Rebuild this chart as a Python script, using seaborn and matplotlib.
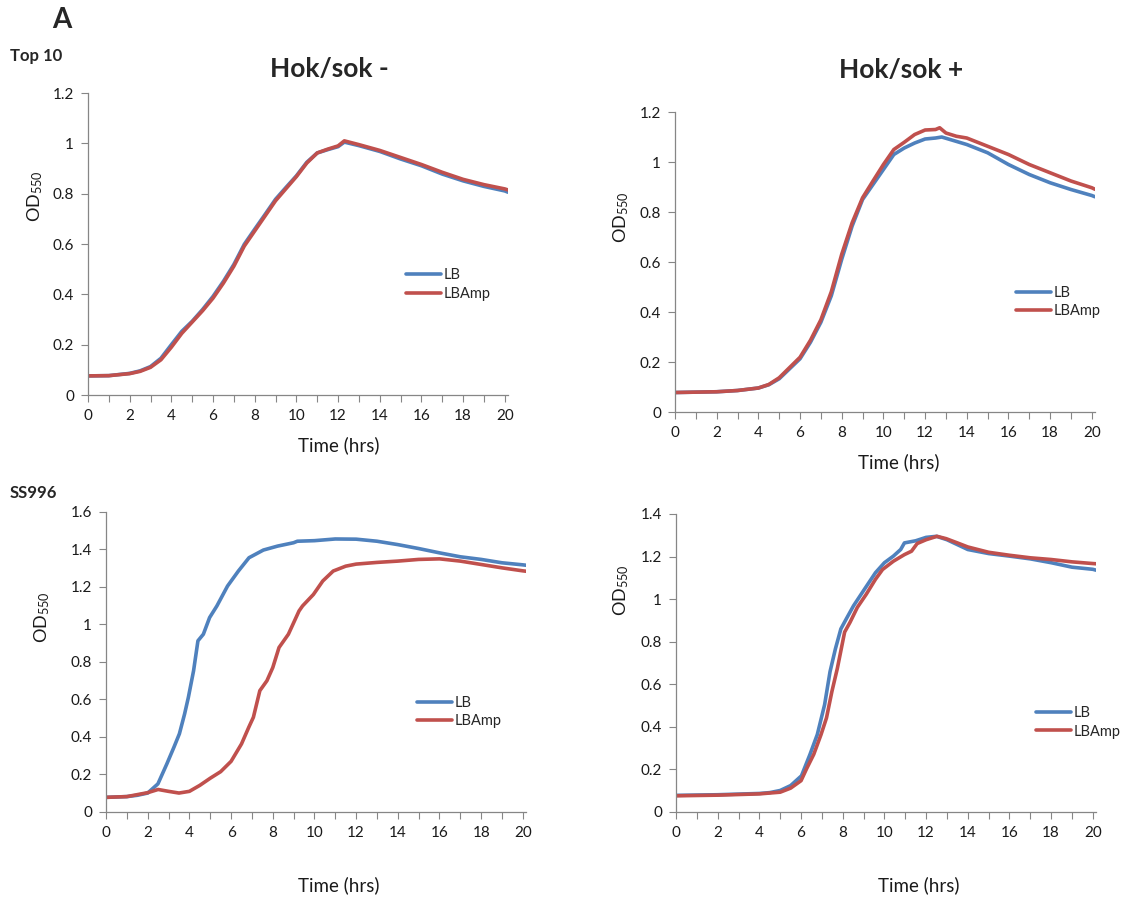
import pandas as pd
import seaborn as sns
import matplotlib.pyplot as plt
from matplotlib.ticker import MultipleLocator, FuncFormatter

# ---- data (time in hrs, OD550) ----
# Top 10, Hok/sok -
tl_lb_t = [0, 1, 2, 2.5, 3, 3.5, 4, 4.5, 5, 5.5, 6, 6.5, 7, 7.5, 8, 8.5, 9, 9.5, 10,
           10.5, 11, 11.5, 12, 12.3, 13, 14, 15, 16, 17, 18, 19, 20, 20.15]
tl_lb = [0.076, 0.077, 0.086, 0.096, 0.113, 0.146, 0.200, 0.253, 0.293, 0.340, 0.392,
         0.452, 0.519, 0.599, 0.659, 0.718, 0.778, 0.825, 0.871, 0.925, 0.962, 0.975,
         0.987, 1.005, 0.991, 0.968, 0.938, 0.911, 0.878, 0.851, 0.829, 0.811, 0.806]
tl_amp_t = tl_lb_t
tl_amp = [0.076, 0.077, 0.085, 0.094, 0.110, 0.140, 0.190, 0.245, 0.290, 0.335, 0.385,
          0.445, 0.512, 0.592, 0.652, 0.712, 0.772, 0.820, 0.868, 0.922, 0.962, 0.977,
          0.990, 1.010, 0.995, 0.972, 0.944, 0.916, 0.885, 0.857, 0.836, 0.819, 0.815]

# Top 10, Hok/sok +
tr_lb_t = [0, 2, 3, 4, 4.5, 5, 5.5, 6, 6.5, 7, 7.5, 8, 8.5, 9, 9.5, 10, 10.5, 11, 11.5,
           12, 12.5, 12.8, 13, 14, 15, 16, 17, 18, 19, 20, 20.15]
tr_lb = [0.078, 0.081, 0.086, 0.096, 0.109, 0.133, 0.173, 0.213, 0.279, 0.359, 0.465,
         0.611, 0.744, 0.850, 0.910, 0.970, 1.030, 1.056, 1.076, 1.092, 1.096, 1.100,
         1.095, 1.070, 1.037, 0.990, 0.950, 0.917, 0.890, 0.866, 0.861]
tr_amp_t = [0, 2, 3, 4, 4.5, 5, 5.5, 6, 6.5, 7, 7.5, 8, 8.5, 9, 9.5, 10, 10.5, 11, 11.5,
            12, 12.5, 12.7, 13, 13.5, 14, 15, 16, 17, 18, 19, 20, 20.15]
tr_amp = [0.078, 0.081, 0.086, 0.096, 0.110, 0.137, 0.178, 0.219, 0.287, 0.369, 0.481,
          0.631, 0.757, 0.857, 0.924, 0.990, 1.050, 1.079, 1.110, 1.128, 1.130, 1.137,
          1.116, 1.103, 1.096, 1.063, 1.030, 0.990, 0.957, 0.924, 0.897, 0.891]

# SS996, Hok/sok -
bl_lb_t = [0, 1, 1.5, 2, 2.23, 2.49, 2.92, 3.26, 3.52, 3.77, 3.95, 4.2, 4.41, 4.67, 4.97,
           5.32, 5.83, 6.35, 6.86, 7.55, 8.23, 9.0, 9.18, 10, 11, 12, 13, 14, 15, 16,
           17, 18, 19, 20, 20.15]
bl_lb = [0.078, 0.082, 0.089, 0.101, 0.124, 0.150, 0.257, 0.346, 0.417, 0.523, 0.611,
         0.753, 0.913, 0.948, 1.037, 1.099, 1.205, 1.285, 1.356, 1.397, 1.418, 1.436,
         1.444, 1.447, 1.456, 1.455, 1.444, 1.426, 1.405, 1.382, 1.361, 1.347, 1.329,
         1.318, 1.316]
bl_amp_t = [0, 1, 2, 2.5, 3, 3.5, 4, 4.5, 5, 5.5, 6, 6.5, 6.85, 7.07, 7.38, 7.72, 8,
            8.3, 8.75, 9.26, 9.43, 9.95, 10.4, 10.9, 11.5, 12, 13, 14, 15, 16, 17, 18,
            19, 20, 20.15]
bl_amp = [0.078, 0.082, 0.103, 0.120, 0.110, 0.101, 0.110, 0.142, 0.180, 0.215, 0.270,
          0.363, 0.452, 0.505, 0.647, 0.700, 0.770, 0.877, 0.948, 1.072, 1.099, 1.160,
          1.232, 1.285, 1.311, 1.322, 1.331, 1.338, 1.347, 1.350, 1.338, 1.320, 1.302,
          1.286, 1.284]

# SS996, Hok/sok +
br_lb_t = [0, 2, 4, 4.5, 5, 5.5, 6.02, 6.43, 6.78, 7.13, 7.39, 7.65, 7.91, 8.17, 8.52,
           9.04, 9.57, 10, 10.43, 10.78, 10.96, 11.5, 12, 12.5, 13, 13.5, 14, 15, 16,
           17, 18, 19, 20, 20.15]
br_lb = [0.078, 0.081, 0.087, 0.091, 0.101, 0.124, 0.170, 0.271, 0.364, 0.504, 0.659,
         0.767, 0.860, 0.907, 0.969, 1.046, 1.124, 1.171, 1.202, 1.233, 1.264, 1.274,
         1.290, 1.295, 1.279, 1.256, 1.233, 1.214, 1.202, 1.189, 1.171, 1.150, 1.140,
         1.136]
br_amp_t = [0, 2, 4, 5, 5.5, 6, 6.26, 6.61, 6.96, 7.22, 7.48, 7.74, 8.09, 8.35, 8.7,
            9.13, 9.57, 9.91, 10.43, 10.96, 11.3, 11.57, 12, 12.52, 12.96, 13.5, 14, 15,
            16, 17, 18, 19, 20, 20.15]
br_amp = [0.076, 0.079, 0.085, 0.093, 0.112, 0.147, 0.202, 0.271, 0.364, 0.442, 0.566,
          0.674, 0.845, 0.891, 0.961, 1.023, 1.093, 1.139, 1.178, 1.209, 1.225, 1.261,
          1.279, 1.295, 1.284, 1.264, 1.245, 1.220, 1.206, 1.194, 1.186, 1.175, 1.167,
          1.166]

media = ['LB', 'LBAmp']
colors = {'LB': '#4F81BD', 'LBAmp': '#C0504D'}


def make_df(lb_t, lb, amp_t, amp):
    a = pd.DataFrame({'time': lb_t, 'od': lb, 'medium': media[0]})
    b = pd.DataFrame({'time': amp_t, 'od': amp, 'medium': media[1]})
    return pd.concat([a, b], ignore_index=True)


sns.set_theme(style='ticks')
plt.rcParams['font.family'] = ['Lato', 'DejaVu Sans']
plt.rcParams['mathtext.default'] = 'regular'

fig = plt.figure(figsize=(11.28, 8.99), dpi=100)

# rect, ymax, title(+pos), xlabel pos, ylabel pos, legend anchor (hrs, od)
panels = [
    dict(df=make_df(tl_lb_t, tl_lb, tl_amp_t, tl_amp), rect=[0.0780, 0.5606, 0.3723, 0.3359],
         ymax=1.2, title='Hok/sok -', tpos=(0.575, 1.081), xl=(0.596, -0.136),
         yl=(-0.102, 0.66), leg=(15.26, 0.439)),
    dict(df=make_df(tr_lb_t, tr_lb, tr_amp_t, tr_amp), rect=[0.5984, 0.5417, 0.3723, 0.3337],
         ymax=1.2, title='Hok/sok +', tpos=(0.539, 1.141), xl=(0.533, -0.138),
         yl=(-0.105, 0.65), leg=(16.38, 0.44)),
    dict(df=make_df(bl_lb_t, bl_lb, bl_amp_t, bl_amp), rect=[0.0940, 0.0968, 0.3723, 0.3337],
         ymax=1.6, title=None, tpos=None, xl=(0.553, -0.214),
         yl=(-0.128, 0.65), leg=(14.92, 0.534)),
    dict(df=make_df(br_lb_t, br_lb, br_amp_t, br_amp), rect=[0.5993, 0.0968, 0.3723, 0.3315],
         ymax=1.4, title=None, tpos=None, xl=(0.578, -0.215),
         yl=(-0.108, 0.745), leg=(17.27, 0.421)),
]

axis_grey = '#868686'
for p in panels:
    ax = fig.add_axes(p['rect'])
    sns.lineplot(data=p['df'], x='time', y='od', hue='medium', hue_order=media,
                 palette=colors, linewidth=2.6, errorbar=None, ax=ax)
    ax.set_xlim(0, 20.15)
    ax.set_ylim(0, p['ymax'])
    ax.xaxis.set_major_locator(MultipleLocator(2))
    ax.xaxis.set_minor_locator(MultipleLocator(1))
    ax.yaxis.set_major_locator(MultipleLocator(0.2))
    ax.yaxis.set_major_formatter(FuncFormatter(lambda v, pos: f'{v:g}'))
    ax.tick_params(which='both', direction='out', length=5, width=0.8,
                   color=axis_grey, labelsize=11, labelcolor='#1a1a1a', pad=5)
    sns.despine(ax=ax)
    for s in ['left', 'bottom']:
        ax.spines[s].set_color(axis_grey)
        ax.spines[s].set_linewidth(0.9)

    ax.set_xlabel('Time (hrs)', fontsize=13.5, color='#1a1a1a')
    ax.xaxis.set_label_coords(*p['xl'])
    ax.set_ylabel('OD$_{550}$', fontsize=13, color='#1a1a1a')
    ax.yaxis.set_label_coords(*p['yl'])

    if p['title']:
        ax.text(p['tpos'][0], p['tpos'][1], p['title'], transform=ax.transAxes,
                ha='center', va='center', fontsize=19, fontweight='bold')

    handles, labels = ax.get_legend_handles_labels()
    ax.legend(handles, labels, loc='center left', bbox_to_anchor=p['leg'],
              bbox_transform=ax.transData, frameon=False, borderpad=0,
              borderaxespad=0, handlelength=2.4, handletextpad=0.15,
              labelspacing=0.3, fontsize=10.5)
    for line in ax.get_legend().get_lines():
        line.set_linewidth(2.6)

fig.text(0.0545, 0.978, 'A', fontsize=20, fontweight='bold', ha='center', va='center')
fig.text(0.0087, 0.938, 'Top 10', fontsize=12, fontweight='bold', ha='left', va='center')
fig.text(0.0084, 0.4516, 'SS996', fontsize=12, fontweight='bold', ha='left', va='center')

fig.savefig('out.png', dpi=100, facecolor='white')
